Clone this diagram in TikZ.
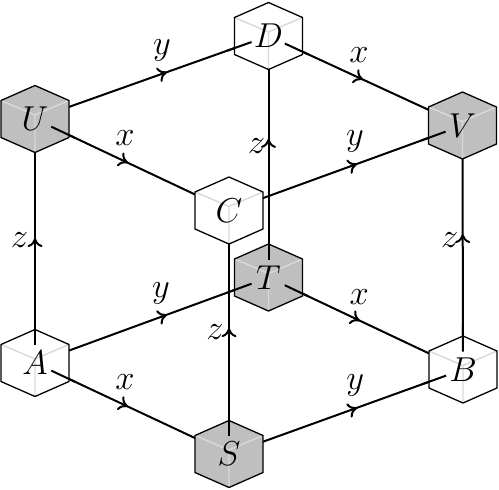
\documentclass[tikz,border=0pt]{standalone}
\usetikzlibrary{decorations.markings,arrows.meta,calc}
\pgfdeclarelayer{edges}
\pgfdeclarelayer{cubes}
\pgfdeclarelayer{stubs}
\pgfsetlayers{edges,cubes,stubs,main}
\tikzset{
  vtx/.style={inner sep=0pt, font=\LARGE},
  edge/.style={line width=1pt},
  midarrow/.style={postaction={decorate}, decoration={markings, mark=at position #1 with {\arrow{To[length=4.5pt,width=7.5pt]}}}},
  lab/.style={font=\LARGE, inner sep=0pt},
  cubeline/.style={line width=0.65pt},
  innerline/.style={line width=0.7pt, draw=black!15},
}
\begin{document}
\begin{tikzpicture}[x=0.5pt,y=-0.5pt]
\useasboundingbox (0,0) rectangle (499,489);
\node[vtx] (U) at (35,119) {$U$};
\node[vtx] (D) at (268.5,36) {$D$};
\node[vtx] (V) at (462.5,125.5) {$V$};
\node[vtx] (C) at (229,210.5) {$C$};
\node[vtx] (T) at (268.5,277.5) {$T$};
\node[vtx] (A) at (35,363) {$A$};
\node[vtx] (B) at (463,369.5) {$B$};
\node[vtx] (S) at (229,454) {$S$};
\begin{pgfonlayer}{edges}
% y edges
\draw[edge, midarrow=0.565] (U.center) -- (D.center) node[lab, pos=0.544, yshift=11.5pt] {$y$};
\draw[edge, midarrow=0.548] (C.center) -- (V.center) node[lab, pos=0.54, yshift=11.5pt] {$y$};
\draw[edge, midarrow=0.565] (A.center) -- (T.center) node[lab, pos=0.54, yshift=11.5pt] {$y$};
\draw[edge, midarrow=0.547] (S.center) -- (B.center) node[lab, pos=0.54, yshift=11.5pt] {$y$};
% x edges
\draw[edge, midarrow=0.487] (D.center) -- (V.center) node[lab, pos=0.466, yshift=11.5pt] {$x$};
\draw[edge, midarrow=0.479] (U.center) -- (C.center) node[lab, pos=0.464, yshift=11.5pt] {$x$};
\draw[edge, midarrow=0.47] (T.center) -- (B.center) node[lab, pos=0.466, yshift=11.5pt] {$x$};
\draw[edge, midarrow=0.479] (A.center) -- (S.center) node[lab, pos=0.464, yshift=11.5pt] {$x$};
% z edges
\draw[edge, midarrow=0.512] (A.center) -- (U.center) node[lab, pos=0.504, xshift=-7.8pt] {$z$};
\draw[edge, midarrow=0.517] (S.center) -- (C.center) node[lab, pos=0.50, xshift=-7pt] {$z$};
\draw[edge, midarrow=0.574] (T.center) -- (D.center) node[lab, pos=0.545, xshift=-6pt] {$z$};
\draw[edge, midarrow=0.555] (B.center) -- (V.center) node[lab, pos=0.53, xshift=-6.5pt] {$z$};
\end{pgfonlayer}
\begin{pgfonlayer}{cubes}
\foreach \n/\c in {U/black!25, D/white, V/black!25, C/white, T/black!25, A/white, B/white, S/black!25} {
  \fill[\c] ($(\n.center)+(0,-33.5)$) -- ++(34,15) -- ++(0,37) -- ++(-34,15) -- ++(-34,-15) -- ++(0,-37) -- cycle;
  \draw[innerline] ($(\n.center)+(-34,-18.5)$) -- ($(\n.center)+(0,-4)$) -- ($(\n.center)+(34,-18.5)$)
    ($(\n.center)+(0,-4)$) -- ($(\n.center)+(0,33.5)$);
  \draw[cubeline] ($(\n.center)+(0,-33.5)$) -- ++(34,15) -- ++(0,37) -- ++(-34,15) -- ++(-34,-15) -- ++(0,-37) -- cycle;
}
\end{pgfonlayer}
\begin{pgfonlayer}{stubs}
\foreach \a/\b in {D/V, U/C, T/B, A/S, D/U, V/C, T/A, B/S, A/U, S/C, T/D, B/V}
  \draw[edge, shorten <=9pt] (\a.center) -- ($(\a.center)!22pt!(\b.center)$);
\end{pgfonlayer}
\end{tikzpicture}
\end{document}
